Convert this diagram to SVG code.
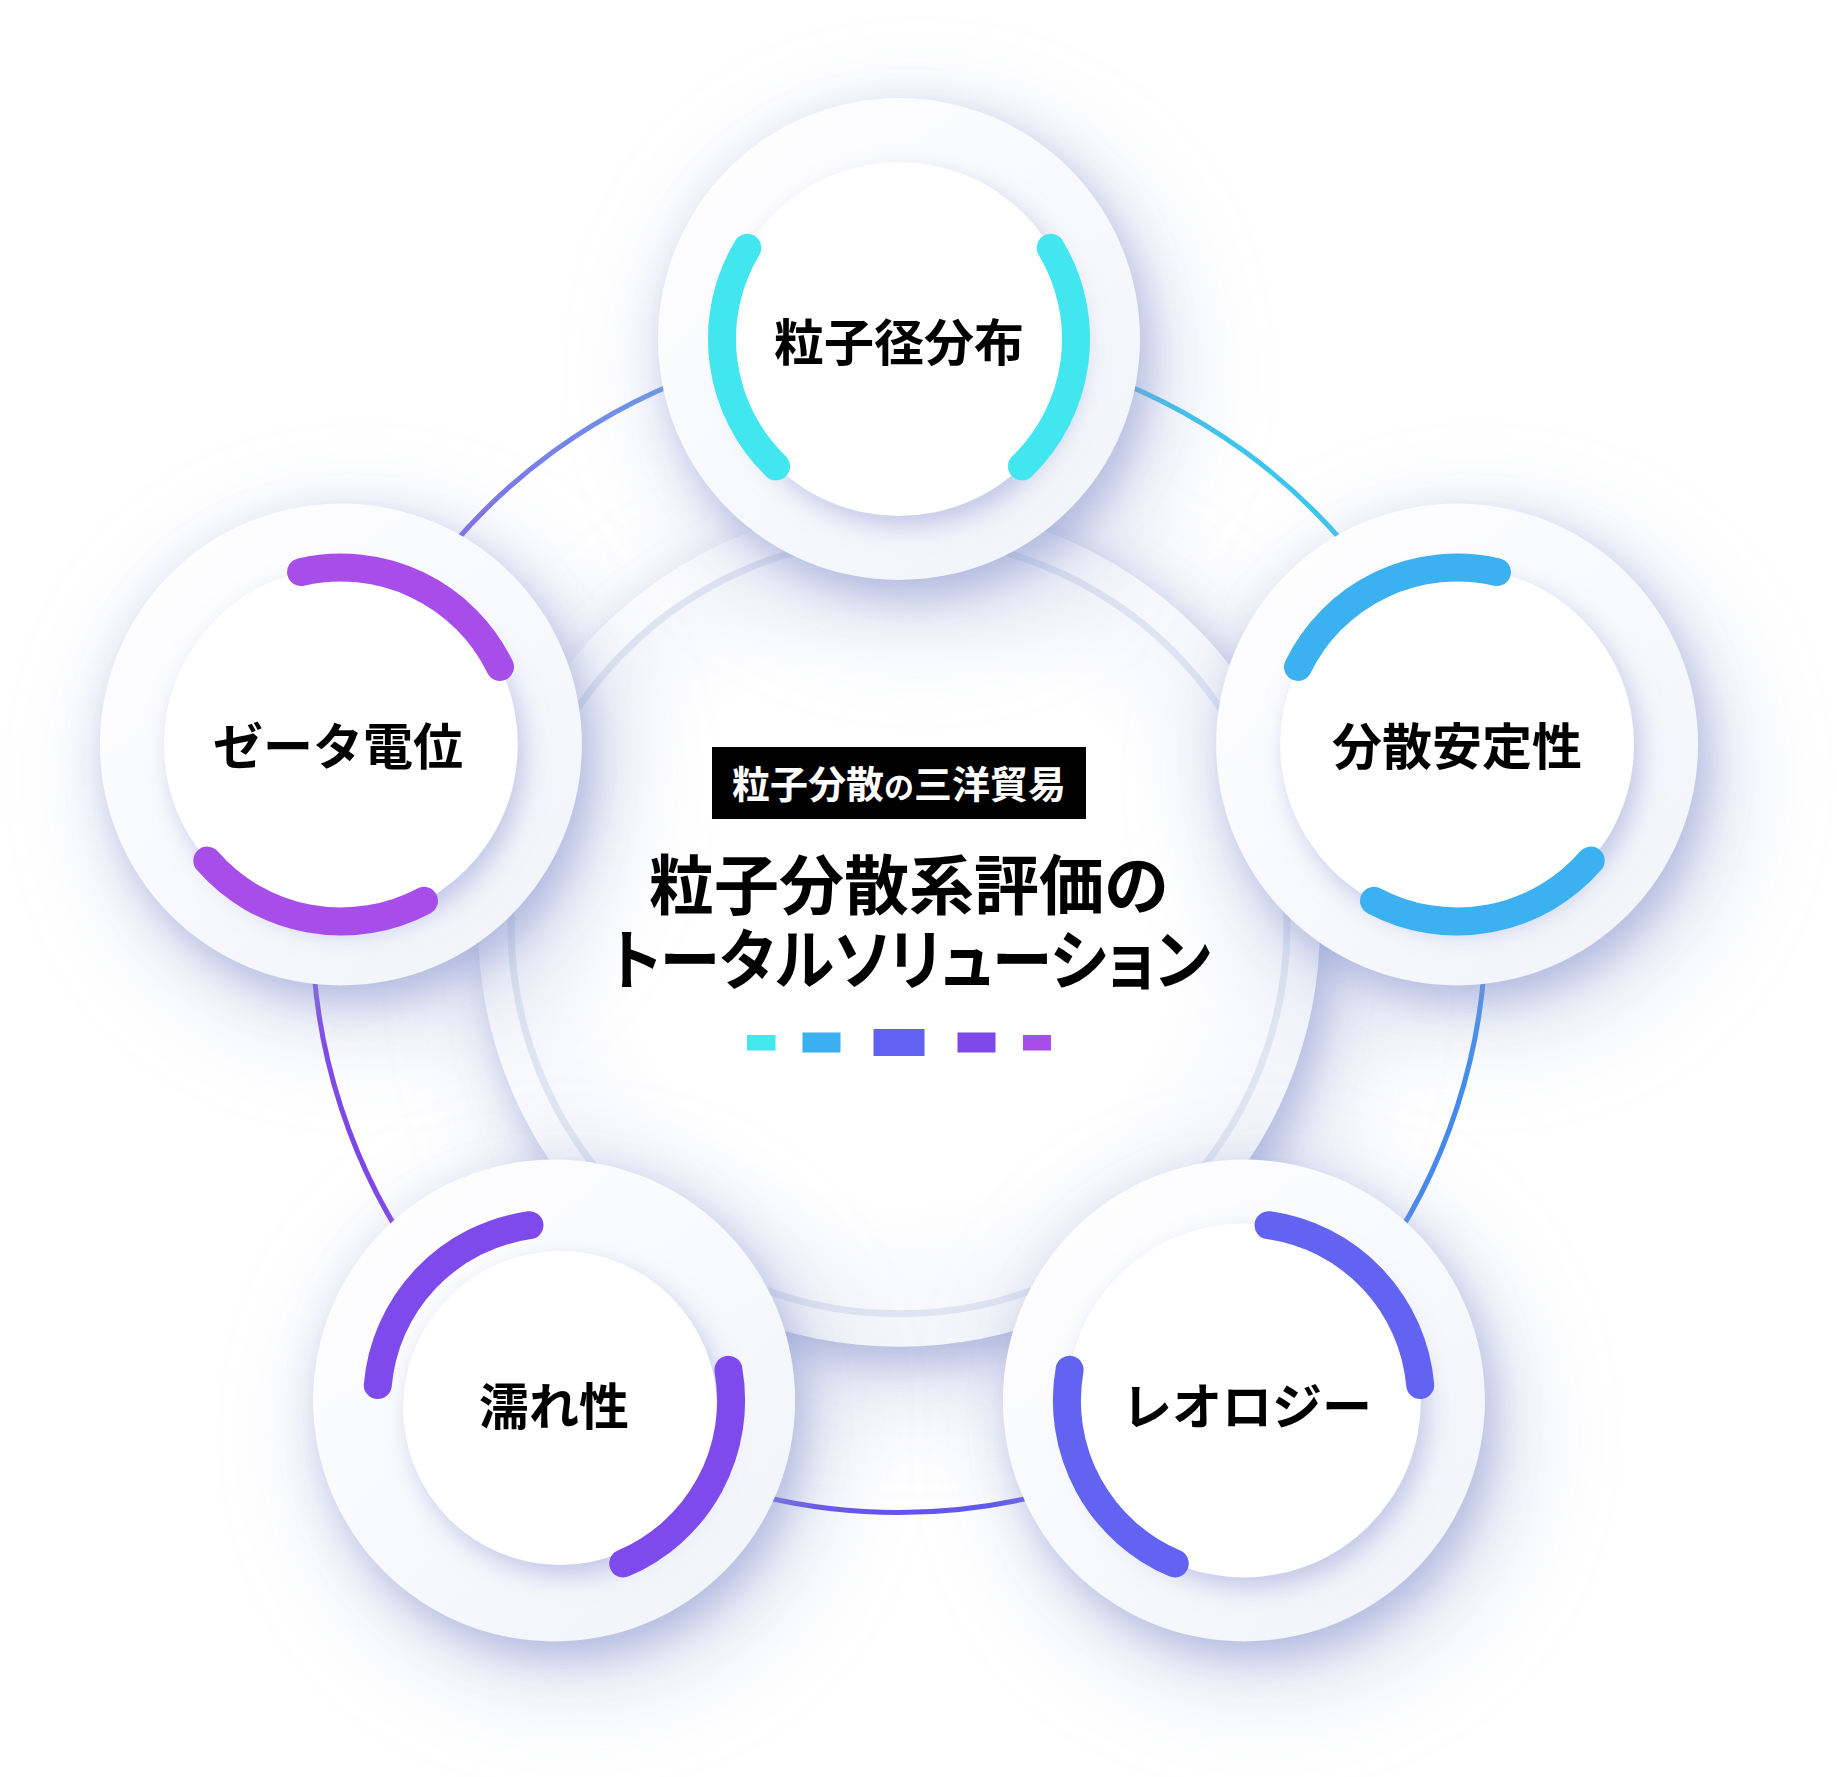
<svg xmlns="http://www.w3.org/2000/svg" width="1837" height="1777" viewBox="0 0 1837 1777">
<defs>
<style>
.lbl{font-family:"Noto Sans CJK JP","Noto Sans CJK SC",sans-serif;font-weight:700;font-size:50px;fill:#000;text-anchor:middle;dominant-baseline:central}
.ttl{font-family:"Noto Sans CJK JP","Noto Sans CJK SC",sans-serif;font-weight:700;fill:#000}
.outer{fill:url(#gOuter)}
.inner{fill:#fff}
.arc{fill:none;stroke-width:28;stroke-linecap:round}
.con{fill:none;stroke-width:5}
</style>
<linearGradient id="gOuter" x1="0.15" y1="0.1" x2="0.85" y2="0.95">
<stop offset="0" stop-color="#FEFEFF"/>
<stop offset="1" stop-color="#F2F4FA"/>
</linearGradient>
<linearGradient id="gDisc" x1="0.15" y1="0.1" x2="0.85" y2="0.95">
<stop offset="0" stop-color="#FCFCFE"/>
<stop offset="1" stop-color="#F3F5FA"/>
</linearGradient>
<radialGradient id="gCore" cx="0.5" cy="0.5" r="0.5">
<stop offset="0.7" stop-color="#FFFFFF"/>
<stop offset="1" stop-color="#F7F8FC"/>
</radialGradient>
<linearGradient id="g01" gradientUnits="userSpaceOnUse" x1="899" y1="339" x2="1457.1" y2="744.5">
<stop offset="0" stop-color="#3FBEEA"/><stop offset="1" stop-color="#3BCDEC"/>
</linearGradient>
<linearGradient id="g12" gradientUnits="userSpaceOnUse" x1="1457.1" y1="744.5" x2="1243.9" y2="1400.5">
<stop offset="0" stop-color="#3C98EE"/><stop offset="1" stop-color="#4A80EC"/>
</linearGradient>
<linearGradient id="g23" gradientUnits="userSpaceOnUse" x1="1243.9" y1="1400.5" x2="554.1" y2="1400.5">
<stop offset="0" stop-color="#5C5CEE"/><stop offset="1" stop-color="#6A4EEC"/>
</linearGradient>
<linearGradient id="g34" gradientUnits="userSpaceOnUse" x1="554.1" y1="1400.5" x2="340.9" y2="744.5">
<stop offset="0" stop-color="#7E48E8"/><stop offset="1" stop-color="#7F46E8"/>
</linearGradient>
<linearGradient id="g40" gradientUnits="userSpaceOnUse" x1="340.9" y1="744.5" x2="899" y2="339">
<stop offset="0.25" stop-color="#8666E8"/><stop offset="0.75" stop-color="#66A0EC"/>
</linearGradient>
<filter id="sh" x="-50%" y="-50%" width="200%" height="200%" color-interpolation-filters="sRGB">
<feGaussianBlur in="SourceAlpha" stdDeviation="55" result="b1"/>
<feOffset in="b1" dx="20" dy="34" result="o1"/>
<feFlood flood-color="#8C9AD2" flood-opacity="0.35"/>
<feComposite in2="o1" operator="in" result="s1"/>
<feGaussianBlur in="SourceAlpha" stdDeviation="20" result="b2"/>
<feOffset in="b2" dx="10" dy="16" result="o2"/>
<feFlood flood-color="#8492CC" flood-opacity="0.5"/>
<feComposite in2="o2" operator="in" result="s2"/>
<feMerge><feMergeNode in="s1"/><feMergeNode in="s2"/><feMergeNode in="SourceGraphic"/></feMerge>
</filter>
<filter id="ish" x="-30%" y="-30%" width="160%" height="160%" color-interpolation-filters="sRGB">
<feGaussianBlur in="SourceAlpha" stdDeviation="12" result="b"/>
<feOffset in="b" dx="7" dy="11" result="o"/>
<feFlood flood-color="#8F9CD6" flood-opacity="0.5"/>
<feComposite in2="o" operator="in" result="s"/>
<feMerge><feMergeNode in="s"/><feMergeNode in="SourceGraphic"/></feMerge>
</filter>
<path id="arcs" d="M151.72,-91.16 A177,177 0 0 1 122.95,127.32 M-122.95,127.32 A177,177 0 0 1 -151.72,-91.16"/>
</defs>
<rect width="1837" height="1777" fill="#FFFFFF"/>

<g id="connectors">
<path class="con" stroke="url(#g01)" d="M899,339 A586.8,586.8 0 0 1 1457.1,744.5"/>
<path class="con" stroke="url(#g12)" d="M1457.1,744.5 A586.8,586.8 0 0 1 1243.9,1400.5"/>
<path class="con" stroke="url(#g23)" d="M1243.9,1400.5 A586.8,586.8 0 0 1 554.1,1400.5"/>
<path class="con" stroke="url(#g34)" d="M554.1,1400.5 A586.8,586.8 0 0 1 340.9,744.5"/>
<path class="con" stroke="url(#g40)" d="M340.9,744.5 A586.8,586.8 0 0 1 899,339"/>
</g>

<g id="center" transform="translate(899,925.8)">
<circle r="421" fill="url(#gDisc)" filter="url(#sh)"/>
<circle r="388" fill="url(#gCore)" stroke="#DFE5F2" stroke-width="7"/>
<rect x="-187" y="-178.8" width="374" height="72" fill="#000"/>
<text class="ttl" x="0" y="-127.8" font-size="38" style="fill:#fff" text-anchor="middle">粒子分散<tspan font-size="30">の</tspan>三洋貿易</text>
<text class="ttl" x="10" y="-16.8" font-size="65" text-anchor="middle">粒子分散系評価の</text>
<text class="ttl" x="-289" y="58.2" font-size="66" textLength="601" lengthAdjust="spacingAndGlyphs" style="font-feature-settings:'palt' 1">トータルソリューション</text>
<rect x="-152" y="109.2" width="28.5" height="15.5" fill="#42E8EE"/>
<rect x="-96.5" y="106.7" width="38" height="20" fill="#3BB0F0"/>
<rect x="-25.5" y="103.2" width="51" height="27" fill="#6262F0"/>
<rect x="58.5" y="106.7" width="38" height="20" fill="#7E48EA"/>
<rect x="124" y="109.2" width="28" height="15.5" fill="#A64DEA"/>
</g>

<g id="node-particle-size" transform="translate(899,339)">
<circle class="outer" r="241" filter="url(#sh)"/>
<circle class="inner" r="177" filter="url(#ish)"/>
<use href="#arcs" class="arc" stroke="#42E6EE"/>
<text class="lbl" x="0" y="0">粒子径分布</text>
</g>

<g id="node-dispersion-stability" transform="translate(1457.1,744.5)">
<circle class="outer" r="241" filter="url(#sh)"/>
<circle class="inner" r="177" filter="url(#ish)"/>
<use href="#arcs" class="arc" stroke="#3BB1F1" transform="rotate(72)"/>
<text class="lbl" x="0" y="-2">分散安定性</text>
</g>

<g id="node-rheology" transform="translate(1243.9,1400.5)">
<circle class="outer" r="241" filter="url(#sh)"/>
<circle class="inner" r="177" filter="url(#ish)"/>
<use href="#arcs" class="arc" stroke="#6363F1" transform="rotate(144)"/>
<text class="lbl" x="3" y="2">レオロジー</text>
</g>

<g id="node-wettability" transform="translate(554.1,1400.5)">
<circle class="outer" r="241" filter="url(#sh)"/>
<circle class="inner" cx="6" cy="7.5" r="157" filter="url(#ish)"/>
<use href="#arcs" class="arc" stroke="#7F4AEB" transform="rotate(216)"/>
<text class="lbl" x="0" y="2">濡れ性</text>
</g>

<g id="node-zeta-potential" transform="translate(340.9,744.5)">
<circle class="outer" r="241" filter="url(#sh)"/>
<circle class="inner" r="177" filter="url(#ish)"/>
<use href="#arcs" class="arc" stroke="#A64DEA" transform="rotate(288)"/>
<text class="lbl" x="-3" y="-2">ゼータ電位</text>
</g>
</svg>
